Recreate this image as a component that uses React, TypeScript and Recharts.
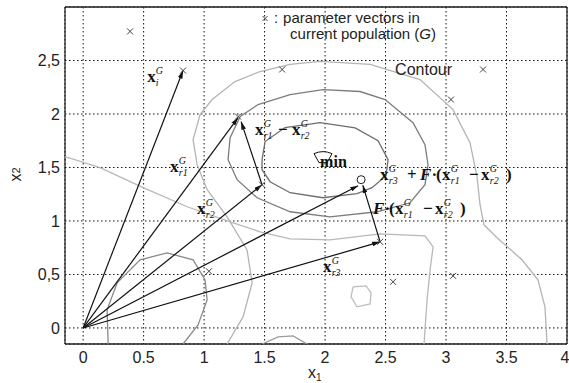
import React from 'react';
import { ScatterChart, Scatter, XAxis, YAxis, CartesianGrid, ReferenceLine, Label } from 'recharts';

type P = { x: number; y: number };
type T = { x: number; y: number; kind: string };

const SERIF = '"Liberation Serif", "Times New Roman", serif';
const SANS = '"Liberation Sans", Arial, Helvetica, sans-serif';

const xTicks = [0, 0.5, 1, 1.5, 2, 2.5, 3, 3.5, 4];
const xTickLabels = ['0', '0.5', '1', '1.5', '2', '2.5', '3', '3.5', '4'];
const yTicks = [0, 0.5, 1, 1.5, 2, 2.5];
const yTickLabels = ['0', '0,5', '1', '1,5', '2', '2,5'];

const origin: P = { x: 0, y: 0 };

const population: P[] = [
  { x: 0.388, y: 2.772 },
  { x: 1.645, y: 2.416 },
  { x: 3.306, y: 2.416 },
  { x: 3.041, y: 2.135 },
  { x: 0.826, y: 2.406 },
  { x: 1.281, y: 1.976 },
  { x: 1.479, y: 1.339 },
  { x: 1.04, y: 0.53 },
  { x: 2.562, y: 0.431 },
  { x: 3.058, y: 0.487 },
  { x: 2.455, y: 0.805 },
];

const vectorTips: P[] = [
  { x: 0.826, y: 2.406 },
  { x: 1.281, y: 1.966 },
  { x: 1.479, y: 1.339 },
  { x: 2.273, y: 1.33 },
  { x: 2.455, y: 0.805 },
];
const diffVector: P[] = [{ x: 1.479, y: 1.339 }, { x: 1.306, y: 1.929 }];
const scaledDiffVector: P[] = [{ x: 2.455, y: 0.805 }, { x: 2.312, y: 1.335 }];
const trialPoint: P[] = [{ x: 2.298, y: 1.386 }];
const minimum: P[] = [{ x: 1.983, y: 1.592 }];

const contourInner: P[] = [
  { x: 1.479, y: 1.573 }, { x: 1.504, y: 1.742 }, { x: 1.669, y: 1.873 }, { x: 1.959, y: 1.92 },
  { x: 2.248, y: 1.87 }, { x: 2.438, y: 1.75 }, { x: 2.521, y: 1.573 }, { x: 2.504, y: 1.423 },
  { x: 2.388, y: 1.311 }, { x: 2.264, y: 1.255 }, { x: 1.983, y: 1.217 }, { x: 1.711, y: 1.264 },
  { x: 1.545, y: 1.367 }, { x: 1.479, y: 1.479 }, { x: 1.479, y: 1.573 },
];
const contourMiddle: P[] = [
  { x: 1.298, y: 1.976 }, { x: 1.446, y: 2.088 }, { x: 1.711, y: 2.182 }, { x: 1.983, y: 2.228 },
  { x: 2.289, y: 2.21 }, { x: 2.496, y: 2.135 }, { x: 2.727, y: 1.919 }, { x: 2.826, y: 1.713 },
  { x: 2.851, y: 1.526 }, { x: 2.826, y: 1.339 }, { x: 2.702, y: 1.17 }, { x: 2.43, y: 1.086 },
  { x: 2.041, y: 1.039 }, { x: 1.711, y: 1.086 }, { x: 1.438, y: 1.217 }, { x: 1.273, y: 1.386 },
  { x: 1.198, y: 1.573 }, { x: 1.215, y: 1.779 }, { x: 1.298, y: 1.976 },
];
const contourOuter: P[] = [
  { x: 1.19, y: -0.15 }, { x: 1.322, y: 0.103 }, { x: 1.397, y: 0.421 }, { x: 1.355, y: 0.73 },
  { x: 1.19, y: 1.039 }, { x: 1.025, y: 1.292 }, { x: 0.942, y: 1.526 }, { x: 0.909, y: 1.76 },
  { x: 0.967, y: 1.994 }, { x: 1.066, y: 2.135 }, { x: 1.256, y: 2.303 }, { x: 1.463, y: 2.397 },
  { x: 1.711, y: 2.463 }, { x: 1.959, y: 2.491 }, { x: 2.372, y: 2.463 }, { x: 2.785, y: 2.322 },
  { x: 3.058, y: 2.041 }, { x: 3.198, y: 1.732 }, { x: 3.256, y: 1.414 }, { x: 3.281, y: 1.152 },
  { x: 3.314, y: 0.964 }, { x: 3.421, y: 0.843 }, { x: 3.628, y: 0.637 }, { x: 3.76, y: 0.449 },
  { x: 3.818, y: 0.197 }, { x: 3.835, y: -0.15 },
];
const contourLong: P[] = [
  { x: -0.15, y: 1.601 }, { x: 0.14, y: 1.498 }, { x: 0.496, y: 1.311 }, { x: 0.86, y: 1.133 },
  { x: 1.24, y: 0.983 }, { x: 1.463, y: 0.899 }, { x: 1.711, y: 0.833 }, { x: 2.041, y: 0.824 },
  { x: 2.455, y: 0.88 }, { x: 2.826, y: 0.861 }, { x: 2.893, y: 0.758 }, { x: 2.868, y: 0.543 },
  { x: 2.843, y: 0.262 }, { x: 2.818, y: -0.15 },
];
const contourLoop: P[] = [
  { x: 0.207, y: -0.15 }, { x: 0.198, y: 0.169 }, { x: 0.281, y: 0.421 }, { x: 0.471, y: 0.637 },
  { x: 0.694, y: 0.702 }, { x: 0.909, y: 0.637 }, { x: 1.008, y: 0.449 }, { x: 1.025, y: 0.262 },
  { x: 0.95, y: 0.028 }, { x: 0.826, y: -0.15 },
];
const contourIsland: P[] = [
  { x: 2.231, y: 0.384 }, { x: 2.339, y: 0.393 }, { x: 2.38, y: 0.328 }, { x: 2.372, y: 0.225 },
  { x: 2.264, y: 0.197 }, { x: 2.215, y: 0.29 }, { x: 2.231, y: 0.384 },
];
const contourBump: P[] = [
  { x: 1.479, y: -0.15 }, { x: 1.612, y: -0.084 }, { x: 1.736, y: -0.075 }, { x: 1.851, y: -0.15 },
];

const textLabels: T[] = [
  { x: 1.479, y: 2.855, kind: 'legend1' },
  { x: 1.711, y: 2.697, kind: 'legend2' },
  { x: 2.579, y: 2.369, kind: 'contour' },
  { x: 1.959, y: 1.507, kind: 'min' },
  { x: 0.529, y: 2.303, kind: 'xi' },
  { x: 0.719, y: 1.461, kind: 'xr1' },
  { x: 1.421, y: 1.807, kind: 'diff' },
  { x: 0.942, y: 1.067, kind: 'xr2' },
  { x: 1.983, y: 0.524, kind: 'xr3' },
  { x: 2.455, y: 1.386, kind: 'mutant' },
  { x: 2.397, y: 1.068, kind: 'fdiff' },
];

const NoDot = () => <g />;

const CrossDot = (p: any) => {
  if (p.cx == null) return <g />;
  const s = 3;
  return (
    <g stroke="#444" strokeWidth={1}>
      <line x1={p.cx - s} y1={p.cy - s} x2={p.cx + s} y2={p.cy + s} />
      <line x1={p.cx - s} y1={p.cy + s} x2={p.cx + s} y2={p.cy - s} />
    </g>
  );
};

const TrialDot = (p: any) => (
  <circle cx={p.cx} cy={p.cy} r={4} fill="#fff" stroke="#222" strokeWidth={1} />
);

const MinDot = (p: any) => (
  <path
    d={`M${p.cx - 9},${p.cy - 4} Q${p.cx},${p.cy - 8} ${p.cx + 9},${p.cy - 4} L${p.cx + 4},${p.cy + 5} L${p.cx - 4},${p.cy + 5} Z`}
    fill="#fff"
    stroke="#111"
    strokeWidth={1}
  />
);

type Piece = [string, string, number];

const renderFormula = (x0: number, y0: number, pieces: Piece[]) => {
  const out: React.ReactNode[] = [];
  let k = 0;
  for (const [kind, s, dx] of pieces) {
    const px = x0 + dx;
    if (kind === 'x') {
      out.push(<tspan key={k++} x={px} y={y0} fontWeight="bold" fontStyle="normal" fontSize={17}>x</tspan>);
      out.push(<tspan key={k++} x={px + 8.7} y={y0 - 7.5} fontWeight="normal" fontStyle="italic" fontSize={10}>G</tspan>);
      out.push(<tspan key={k++} x={px + 8.7} y={y0 + 4} fontWeight="normal" fontStyle="italic" fontSize={10}>{s}</tspan>);
    } else {
      out.push(
        <tspan key={k++} x={px} y={y0} fontWeight="bold" fontStyle={kind === 'opi' ? 'italic' : 'normal'} fontSize={17}>
          {s}
        </tspan>
      );
    }
  }
  return (
    <text fontFamily={SERIF} fill="#111">
      {out}
    </text>
  );
};

const LabelDot = (p: any) => {
  const x = p.cx;
  const y = p.cy;
  const kind = p.payload?.kind;
  if (x == null) return <g />;
  switch (kind) {
    case 'legend1':
      return (
        <g>
          <g stroke="#444" strokeWidth={1}>
            <line x1={x + 0.5} y1={y - 6.5} x2={x + 5.5} y2={y - 1.5} />
            <line x1={x + 0.5} y1={y - 1.5} x2={x + 5.5} y2={y - 6.5} />
          </g>
          <text fontFamily={SANS} fontSize={15} fill="#222">
            <tspan x={x + 12} y={y}>:</tspan>
            <tspan x={x + 21} y={y}>parameter vectors in</tspan>
          </text>
        </g>
      );
    case 'legend2':
      return (
        <text x={x} y={y} fontFamily={SANS} fontSize={15} fill="#222">
          current population (<tspan fontStyle="italic">G</tspan>)
        </text>
      );
    case 'contour':
      return <text x={x} y={y} fontFamily={SANS} fontSize={16} fill="#222">Contour</text>;
    case 'min':
      return <text x={x} y={y} fontFamily={SERIF} fontWeight="bold" fontSize={16} fill="#111">min</text>;
    case 'xi':
      return renderFormula(x, y, [['x', 'i', 0]]);
    case 'xr1':
      return renderFormula(x, y, [['x', 'r1', 0]]);
    case 'xr2':
      return renderFormula(x, y, [['x', 'r2', 0]]);
    case 'xr3':
      return renderFormula(x, y, [['x', 'r3', 0]]);
    case 'diff':
      return renderFormula(x, y, [
        ['x', 'r1', 0],
        ['op', '−', 23],
        ['x', 'r2', 37],
      ]);
    case 'mutant':
      return renderFormula(x, y, [
        ['x', 'r3', 0],
        ['op', '+', 27],
        ['opi', 'F', 40],
        ['op', '·', 51.5],
        ['op', '(', 56],
        ['x', 'r1', 62],
        ['op', '−', 89],
        ['x', 'r2', 101],
        ['op', ')', 126],
      ]);
    case 'fdiff':
      return renderFormula(x, y, [
        ['opi', 'F', 0],
        ['op', '·', 11.5],
        ['op', '(', 16],
        ['x', 'r1', 22],
        ['op', '−', 50],
        ['x', 'r2', 62],
        ['op', ')', 87],
      ]);
    default:
      return <g />;
  }
};

const XAxisLabel = (props: any) => {
  const vb = props.viewBox || { x: 65, y: 344, width: 502, height: 39 };
  const cx = vb.x + vb.width / 2 - 8;
  return (
    <text x={cx} y={vb.y + 34} fontFamily={SANS} fontSize={16} fill="#222">
      x<tspan fontSize={10} dy={3}>1</tspan>
    </text>
  );
};

const YAxisLabel = (props: any) => {
  const vb = props.viewBox || { x: 0, y: 7, width: 65, height: 337 };
  const cy = vb.y + vb.height / 2 + 6;
  const bx = 21;
  return (
    <text x={bx} y={cy} transform={`rotate(-90, ${bx}, ${cy})`} fontFamily={SANS} fontSize={16} fill="#222">
      x<tspan fontSize={11} dy={-1}>2</tspan>
    </text>
  );
};

const contourStyles: { data: P[]; stroke: string }[] = [
  { data: contourInner, stroke: '#6e6e6e' },
  { data: contourMiddle, stroke: '#7c7c7c' },
  { data: contourOuter, stroke: '#b4b4b4' },
  { data: contourLong, stroke: '#b8b8b8' },
  { data: contourLoop, stroke: '#8a8a8a' },
  { data: contourIsland, stroke: '#bdbdbd' },
  { data: contourBump, stroke: '#9a9a9a' },
];

export default function App() {
  return (
    <div style={{ position: 'absolute', left: 0, top: 0, background: '#fff' }}>
      <ScatterChart width={569} height={383} margin={{ top: 7, right: 2, bottom: 0, left: 0 }}>
        <defs>
          <marker id="ah" viewBox="0 0 10 6" refX="10" refY="3" markerWidth="8" markerHeight="5" orient="auto" markerUnits="userSpaceOnUse">
            <path d="M0,0 L10,3 L0,6 z" fill="#111" />
          </marker>
        </defs>
        <CartesianGrid strokeDasharray="1.5 2.5" stroke="#111" strokeWidth={1} />
        <XAxis
          type="number"
          dataKey="x"
          domain={[-0.15, 4]}
          ticks={xTicks}
          allowDataOverflow
          height={39}
          tickLine={false}
          tickSize={8}
          tickMargin={0}
          axisLine={{ stroke: '#222', strokeWidth: 1.3 }}
          tick={{ fontFamily: SANS, fontSize: 16, fill: '#222' }}
          tickFormatter={(v: number) => xTickLabels[xTicks.indexOf(v)] ?? String(v)}
          label={<Label content={XAxisLabel} />}
        />
        <YAxis
          type="number"
          dataKey="y"
          domain={[-0.15, 3]}
          ticks={yTicks}
          allowDataOverflow
          width={65}
          tickLine={false}
          tickSize={5}
          tickMargin={0}
          axisLine={{ stroke: '#222', strokeWidth: 1.3 }}
          tick={{ fontFamily: SANS, fontSize: 16, fill: '#222' }}
          tickFormatter={(v: number) => yTickLabels[yTicks.indexOf(v)] ?? String(v)}
          label={<Label content={YAxisLabel} />}
        />
        <ReferenceLine x={4} stroke="#222" strokeWidth={1.3} />
        <ReferenceLine y={3} stroke="#222" strokeWidth={1.3} />
        {contourStyles.map((c, i) => (
          <Scatter
            key={'c' + i}
            data={c.data}
            line={{ stroke: c.stroke, strokeWidth: 1.3 }}
            lineType="joint"
            shape={NoDot}
            isAnimationActive={false}
          />
        ))}
        {vectorTips.map((t, i) => (
          <Scatter
            key={'v' + i}
            data={[origin, t]}
            line={{ stroke: '#111', strokeWidth: 1.2, markerEnd: 'url(#ah)' }}
            lineType="joint"
            shape={NoDot}
            isAnimationActive={false}
          />
        ))}
        <Scatter data={diffVector} line={{ stroke: '#111', strokeWidth: 1.2, markerEnd: 'url(#ah)' }} lineType="joint" shape={NoDot} isAnimationActive={false} />
        <Scatter data={scaledDiffVector} line={{ stroke: '#111', strokeWidth: 1.2, markerEnd: 'url(#ah)' }} lineType="joint" shape={NoDot} isAnimationActive={false} />
        <Scatter data={population} shape={CrossDot} isAnimationActive={false} />
        <Scatter data={trialPoint} shape={TrialDot} isAnimationActive={false} />
        <Scatter data={minimum} shape={MinDot} isAnimationActive={false} />
        <Scatter data={textLabels} shape={LabelDot} isAnimationActive={false} />
      </ScatterChart>
    </div>
  );
}
